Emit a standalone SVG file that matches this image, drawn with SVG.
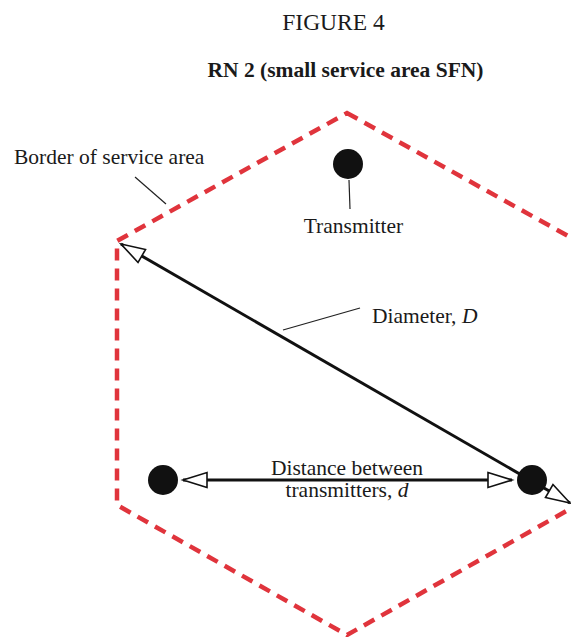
<svg xmlns="http://www.w3.org/2000/svg" width="571" height="637" viewBox="0 0 571 637">
<style>
text{font-family:"Liberation Serif","Times New Roman",serif;font-size:21.5px;fill:#1a1a1a}
.title{font-size:23.5px}
.sub{font-size:21.5px;font-weight:bold}
.border{fill:none;stroke:#e0343c;stroke-width:4.5;stroke-dasharray:12 8}
.arrow{stroke:#111;stroke-width:3;fill:none}
.lead{stroke:#222;stroke-width:1.2;fill:none}
.tx{fill:#111}
</style>
<defs>
<marker id="open" markerUnits="userSpaceOnUse" markerWidth="30" markerHeight="20" refX="26" refY="9" orient="auto-start-reverse" overflow="visible">
<path d="M2,1.5 L26,9 L2,16.5 Z" fill="#fff" stroke="#111" stroke-width="1.6" stroke-linejoin="miter"/>
</marker>
</defs>
<rect width="571" height="637" fill="#fff"/>
<g id="title">
<text class="title" x="333.5" y="30" text-anchor="middle">FIGURE 4</text>
<text class="sub" x="345.5" y="77" text-anchor="middle">RN 2 (small service area SFN)</text>
</g>
<g id="service-area">
<path class="border" d="M347,113 L577,241 L577,505 L347,635 L117,505 L117,241 Z"/>
<text x="14" y="164">Border of service area</text>
<path class="lead" d="M135,177 L166,204"/>
</g>
<g id="connectors">
<line class="arrow" x1="121" y1="244" x2="570" y2="503" marker-start="url(#open)" marker-end="url(#open)"/>
<line class="arrow" x1="183" y1="480" x2="512" y2="480" marker-start="url(#open)" marker-end="url(#open)"/>
<path class="lead" d="M283,330 L360,308"/>
</g>
<g id="transmitter-top">
<circle class="tx" cx="348" cy="164" r="15"/>
<path class="lead" d="M349,180 L350,209"/>
<text x="353.5" y="233" text-anchor="middle">Transmitter</text>
</g>
<g id="transmitter-left">
<circle class="tx" cx="163" cy="480" r="15"/>
</g>
<g id="transmitter-right">
<circle class="tx" cx="532" cy="480" r="15"/>
</g>
<g id="labels">
<text x="372" y="323">Diameter, <tspan font-style="italic">D</tspan></text>
<text x="347" y="475" text-anchor="middle">Distance between</text>
<text x="347" y="497" text-anchor="middle">transmitters, <tspan font-style="italic">d</tspan></text>
</g>
</svg>
